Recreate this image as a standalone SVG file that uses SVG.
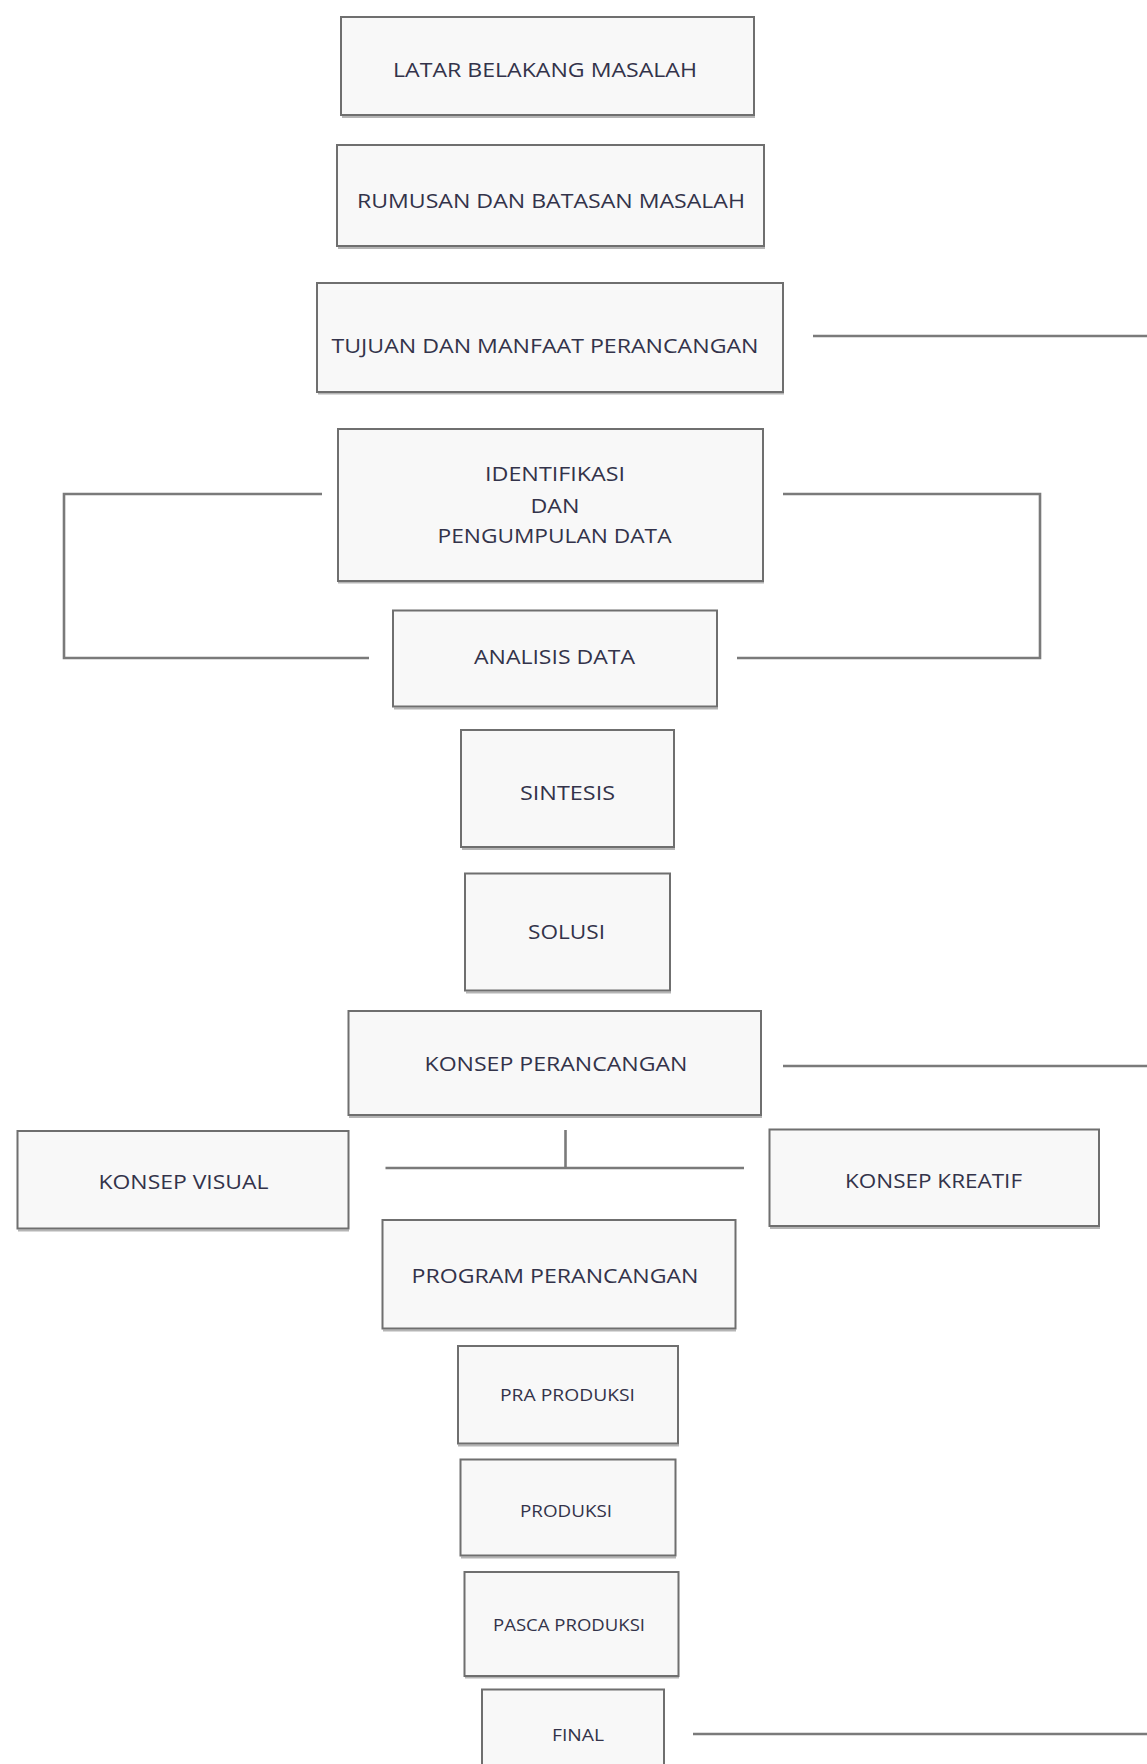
<svg xmlns="http://www.w3.org/2000/svg" width="1147" height="1764" viewBox="0 0 1147 1764">
<style>
.box{fill:#f8f8f8;stroke:#6f6f6f;stroke-width:2}
.sh{fill:none;stroke:#b5b5b5;stroke-width:2}
.t{font-family:"Open Sans","Liberation Sans",Arial,sans-serif;font-size:20px;fill:#33334a;text-anchor:middle}
.s{font-size:17px}
.ln{fill:none;stroke:#7a7a7a;stroke-width:2.6}
</style>
<rect width="1147" height="1764" fill="#ffffff"/>
<g id="connectors">
<line class="ln" x1="813" y1="336" x2="1147" y2="336"/>
<polyline class="ln" points="322,494 64,494 64,658 369,658"/>
<polyline class="ln" points="783,494 1040,494 1040,658 737,658"/>
<line class="ln" x1="783" y1="1066" x2="1147" y2="1066"/>
<line class="ln" x1="565.5" y1="1130" x2="565.5" y2="1168"/>
<line class="ln" x1="385.5" y1="1168" x2="744" y2="1168"/>
<line class="ln" x1="693" y1="1734" x2="1147" y2="1734"/>
</g>
<g id="latar">
<line class="sh" x1="342" y1="117" x2="755" y2="117"/>
<rect class="box" x="341" y="17" width="413" height="98"/>
<text class="t" x="545" y="77" textLength="304" lengthAdjust="spacingAndGlyphs">LATAR BELAKANG MASALAH</text>
</g>
<g id="rumusan">
<line class="sh" x1="338" y1="248" x2="765" y2="248"/>
<rect class="box" x="337" y="145" width="427" height="101"/>
<text class="t" x="551" y="208" textLength="388" lengthAdjust="spacingAndGlyphs">RUMUSAN DAN BATASAN MASALAH</text>
</g>
<g id="tujuan">
<line class="sh" x1="318" y1="393.5" x2="784" y2="393.5"/>
<rect class="box" x="317" y="283" width="466" height="109"/>
<text class="t" x="545" y="353" textLength="427" lengthAdjust="spacingAndGlyphs">TUJUAN DAN MANFAAT PERANCANGAN</text>
</g>
<g id="identifikasi">
<line class="sh" x1="338" y1="582.5" x2="764" y2="582.5"/>
<rect class="box" x="338" y="429" width="425" height="152"/>
<text class="t" x="555" y="481" textLength="140" lengthAdjust="spacingAndGlyphs">IDENTIFIKASI</text>
<text class="t" x="555" y="513" textLength="49" lengthAdjust="spacingAndGlyphs">DAN</text>
<text class="t" x="554.5" y="543" textLength="234" lengthAdjust="spacingAndGlyphs">PENGUMPULAN DATA</text>
</g>
<g id="analisis">
<line class="sh" x1="394" y1="708.5" x2="718" y2="708.5"/>
<rect class="box" x="393" y="610.5" width="324" height="96"/>
<text class="t" x="554.5" y="664" textLength="161" lengthAdjust="spacingAndGlyphs">ANALISIS DATA</text>
</g>
<g id="sintesis">
<line class="sh" x1="462" y1="849" x2="675" y2="849"/>
<rect class="box" x="461" y="730" width="213" height="117"/>
<text class="t" x="567.5" y="800" textLength="95" lengthAdjust="spacingAndGlyphs">SINTESIS</text>
</g>
<g id="solusi">
<line class="sh" x1="466" y1="992.5" x2="671" y2="992.5"/>
<rect class="box" x="465" y="873.5" width="205" height="117"/>
<text class="t" x="566.5" y="939" textLength="77" lengthAdjust="spacingAndGlyphs">SOLUSI</text>
</g>
<g id="konsep-perancangan">
<line class="sh" x1="349" y1="1117" x2="762" y2="1117"/>
<rect class="box" x="348.5" y="1011" width="412.5" height="104"/>
<text class="t" x="556" y="1071" textLength="263" lengthAdjust="spacingAndGlyphs">KONSEP PERANCANGAN</text>
</g>
<g id="konsep-visual">
<line class="sh" x1="18" y1="1230.5" x2="349" y2="1230.5"/>
<rect class="box" x="17.5" y="1131" width="331" height="97.5"/>
<text class="t" x="183.5" y="1189" textLength="170" lengthAdjust="spacingAndGlyphs">KONSEP VISUAL</text>
</g>
<g id="konsep-kreatif">
<line class="sh" x1="770" y1="1228" x2="1100" y2="1228"/>
<rect class="box" x="769.5" y="1129.5" width="329.5" height="96.5"/>
<text class="t" x="933.5" y="1188" textLength="177" lengthAdjust="spacingAndGlyphs">KONSEP KREATIF</text>
</g>
<g id="program">
<line class="sh" x1="383" y1="1330.5" x2="736" y2="1330.5"/>
<rect class="box" x="382.5" y="1220" width="353" height="108.5"/>
<text class="t" x="555" y="1283" textLength="287" lengthAdjust="spacingAndGlyphs">PROGRAM PERANCANGAN</text>
</g>
<g id="pra-produksi">
<line class="sh" x1="458" y1="1445.5" x2="679" y2="1445.5"/>
<rect class="box" x="458" y="1346" width="220" height="97.5"/>
<text class="t s" x="567.5" y="1400.5" textLength="135" lengthAdjust="spacingAndGlyphs">PRA PRODUKSI</text>
</g>
<g id="produksi">
<line class="sh" x1="461" y1="1557.5" x2="676" y2="1557.5"/>
<rect class="box" x="460.5" y="1459.5" width="215" height="96"/>
<text class="t s" x="566" y="1517" textLength="92" lengthAdjust="spacingAndGlyphs">PRODUKSI</text>
</g>
<g id="pasca-produksi">
<line class="sh" x1="465" y1="1677.5" x2="679" y2="1677.5"/>
<rect class="box" x="464.5" y="1572" width="214" height="104"/>
<text class="t s" x="569" y="1630.5" textLength="152" lengthAdjust="spacingAndGlyphs">PASCA PRODUKSI</text>
</g>
<g id="final">
<rect class="box" x="482" y="1689.5" width="182" height="90"/>
<text class="t s" x="578" y="1740.5" textLength="52" lengthAdjust="spacingAndGlyphs">FINAL</text>
</g>
</svg>
